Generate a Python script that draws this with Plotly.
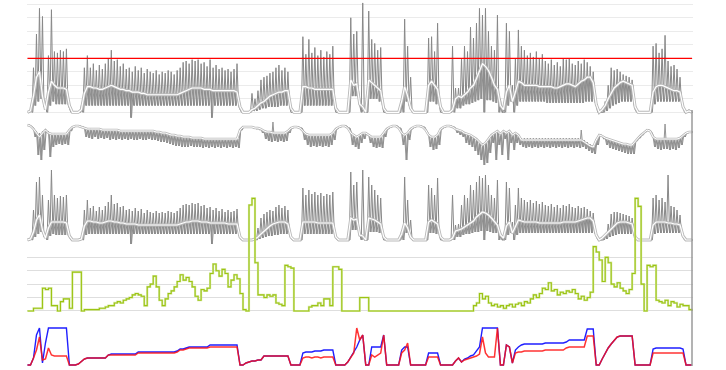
import plotly.graph_objects as go

# ---------------- data (sample index, 3 units per sample) ----------------
T = [3 * i for i in range(223)]
THRESHOLD = 40

P1_PEAK = [
0, 2, 33, 58, 77, 71, 5, 42, 76, 45,
44, 46, 45, 47, 3, 0, 0, 0, 5, 33,
42, 33, 36, 31, 35, 32, 36, 40, 46, 38,
39, 34, 36, 32, 33, 30, 34, 31, 33, 29,
32, 30, 29, 31, 28, 30, 29, 31, 30, 28,
31, 33, 37, 38, 36, 39, 38, 39, 36, 37,
34, 39, 33, 35, 32, 33, 31, 32, 30, 32,
36, 2, 0, 0, 0, 14, 10, 16, 24, 26,
27, 29, 30, 33, 35, 31, 33, 30, 0, 0,
0, 0, 56, 43, 54, 44, 48, 42, 46, 41,
45, 43, 49, 0, 0, 0, 0, 0, 70, 58,
60, 5, 81, 0, 75, 54, 51, 46, 48, 0,
0, 0, 0, 0, 0, 10, 69, 49, 26, 0,
0, 0, 0, 0, 55, 56, 45, 66, 0, 0,
0, 0, 49, 18, 18, 40, 49, 45, 63, 55,
66, 77, 72, 77, 60, 49, 46, 72, 10, 0,
66, 60, 20, 40, 61, 49, 46, 42, 44, 41,
45, 40, 43, 38, 36, 39, 35, 37, 34, 40,
39, 40, 36, 35, 38, 36, 39, 37, 34, 30,
5, 0, 0, 8, 20, 33, 31, 32, 30, 28,
27, 26, 24, 2, 0, 0, 0, 0, 0, 49,
51, 44, 47, 57, 38, 34, 35, 32, 26, 4,
0, 2, 0]

P1_LOW = [
0, 0, 5, 8, 10, 4, 0, 5, 8, 6,
6, 6, 6, 6, 0, 0, 0, 0, 0, 5,
5, 5, 5, 5, 5, 5, 5, 5, 5, 5,
5, 5, 5, 5, -4, 5, 5, 5, 5, 5,
5, 5, 5, 5, 5, 5, 5, 5, 5, 5,
5, 5, 5, 5, 5, 5, 5, 5, 5, 5,
5, -4, 5, 5, 5, 5, 5, 5, 5, 5,
5, 0, 0, 0, 0, 1, 1, 2, 3, 3,
4, 4, 4, 4, 5, 5, 5, 5, 0, 0,
0, 0, 5, 5, 5, 5, 5, 5, 5, 5,
5, 5, 5, 0, 0, 0, 0, 0, 12, 12,
12, 0, 0, 0, 10, 10, 10, 8, 6, 0,
0, 0, 0, 0, 0, 0, 8, 5, 0, 0,
0, 0, 0, 0, 8, 8, 6, 6, 0, 0,
0, 0, 0, 3, 3, 5, 6, 6, 7, 8,
9, 10, 0, 9, 9, 8, 7, 0, 0, 0,
5, 8, 0, 5, 8, 8, 8, 8, 8, 8,
8, 8, 8, 7, 7, 7, 7, 7, 7, 7,
7, 7, 7, 7, 7, 7, 8, 8, 8, 8,
0, 0, 0, 1, 3, 5, 6, 7, 8, 8,
8, 8, 7, 0, 0, 0, 0, 0, 0, 6,
8, 8, 8, 8, 8, 8, 8, 8, 7, 0,
0, 0, 0]

P1_MEAN = [
0, 1, 12, 26, 30, 12, 2, 15, 23, 20,
18, 18, 18, 17, 5, 0, 0, 0, 2, 14,
19, 19, 18, 18, 17, 17, 18, 19, 20, 19,
18, 17, 17, 16, 16, 15, 15, 15, 14, 14,
13, 13, 13, 13, 13, 13, 13, 13, 13, 13,
13, 14, 15, 16, 17, 18, 18, 18, 18, 17,
17, 17, 16, 16, 16, 16, 16, 16, 16, 16,
15, 4, 0, 0, 0, 2, 3, 5, 7, 8,
10, 12, 13, 14, 15, 15, 16, 16, 3, 0,
0, 0, 19, 19, 18, 18, 17, 17, 17, 17,
17, 17, 17, 3, 0, 0, 0, 0, 24, 20,
21, 6, 4, 0, 24, 22, 20, 18, 16, 3,
0, 0, 0, 0, 0, 8, 19, 12, 3, 0,
0, 0, 0, 0, 20, 23, 20, 17, 4, 0,
0, 0, 2, 10, 12, 11, 13, 15, 18, 20,
25, 30, 36, 34, 31, 26, 20, 17, 5, 2,
15, 20, 8, 15, 23, 22, 20, 20, 20, 20,
20, 19, 19, 19, 19, 19, 18, 18, 19, 20,
21, 21, 20, 19, 21, 23, 24, 26, 26, 22,
6, 0, 2, 5, 10, 14, 18, 20, 22, 23,
22, 21, 20, 4, 0, 0, 0, 0, 0, 15,
19, 20, 20, 19, 18, 17, 16, 16, 15, 4,
0, 1, 0]

# panel 2: depth below the top line
P2_HI = [
0, 1, 3, 6, 8, 6, 4, 6, 8, 8,
8, 8, 8, 8, 4, 2, 1, 1, 2, 3,
4, 4, 4, 4, 4, 5, 5, 5, 5, 5,
5, 6, 6, 6, 6, 6, 6, 6, 6, 6,
6, 6, 6, 7, 7, 8, 8, 9, 10, 10,
11, 11, 12, 12, 12, 13, 13, 13, 13, 14,
14, 14, 14, 14, 14, 14, 14, 14, 14, 14,
14, 5, 2, 2, 2, 2, 3, 3, 4, 6,
7, 7, -3, 8, 8, 8, 8, 6, 3, 2,
2, 3, 6, 9, 10, 10, 10, 10, 10, 10,
10, 10, 8, 4, 2, 1, 1, 3, 8, 10,
12, 10, 8, 8, 10, 12, 12, 12, 12, 8,
4, 2, 1, 1, 3, 8, 10, 8, 4, 2,
1, 1, 2, 5, 10, 12, 12, 10, 4, 2,
1, 1, 2, 4, 5, 6, 8, 9, 10, 12,
14, 17, 20, 18, 14, 10, 8, 6, 9, 6,
8, 6, 10, 8, 10, 13, 13, 13, 13, 13,
13, 13, 13, 13, 13, 13, 13, 13, 13, 13,
13, 13, 13, 13, 13, 5, 15, 17, 19, 20,
14, 10, 11, 13, 14, 15, 16, 17, 18, 19,
19, 20, 20, 16, 13, 10, 7, 5, 6, 12,
14, 14, 14, -1, 14, 14, 14, 14, 13, 10,
8, 7, 7]

P2_LO = [
0, 2, 12, 30, 35, 25, 8, 32, 22, 20,
19, 20, 19, 20, 6, 2, 1, 1, 2, 12,
13, 14, 12, 14, 13, 14, 13, 15, 14, 15,
14, 15, 14, 15, 14, 15, 15, 14, 15, 15,
14, 15, 15, 16, 17, 17, 18, 19, 20, 21,
21, 22, 22, 22, 21, 22, 22, 22, 23, 22,
23, 22, 23, 22, 23, 22, 23, 22, 23, 22,
23, 5, 2, 2, 2, 3, 4, 5, 8, 14,
16, 17, 16, 17, 16, 17, 16, 8, 3, 2,
2, 3, 15, 20, 22, 21, 22, 21, 22, 21,
22, 20, 15, 4, 2, 1, 1, 3, 20, 22,
24, 18, 14, 10, 18, 22, 23, 22, 23, 12,
4, 2, 1, 1, 3, 20, 35, 15, 4, 2,
1, 1, 2, 8, 22, 25, 24, 20, 4, 2,
1, 1, 2, 8, 10, 12, 18, 20, 22, 26,
30, 35, 40, 38, 28, 18, 35, 20, 30, 14,
35, 18, 25, 18, 20, 22, 23, 22, 23, 22,
23, 22, 23, 22, 23, 22, 23, 22, 23, 22,
23, 22, 23, 22, 23, 22, 24, 26, 28, 29,
20, 10, 14, 20, 23, 24, 25, 26, 27, 28,
29, 29, 29, 16, 13, 10, 7, 5, 8, 22,
24, 25, 24, 24, 25, 24, 25, 23, 20, 12,
8, 7, 7]

P2_MEAN = [
0, 1, 4, 8, 12, 8, 5, 8, 9, 9,
9, 9, 9, 9, 5, 2, 1, 1, 2, 3,
4, 4, 4, 4, 4, 5, 5, 5, 5, 5,
5, 6, 6, 6, 6, 6, 6, 6, 6, 6,
6, 6, 6, 7, 7, 8, 8, 9, 10, 10,
11, 11, 12, 12, 12, 13, 13, 13, 13, 14,
14, 14, 14, 14, 14, 14, 14, 14, 14, 14,
14, 5, 2, 2, 2, 2, 3, 3, 4, 6,
7, 7, 8, 8, 8, 8, 8, 6, 3, 2,
2, 3, 6, 9, 10, 10, 10, 10, 10, 10,
10, 10, 8, 4, 2, 1, 1, 3, 8, 10,
12, 10, 8, 8, 10, 12, 12, 12, 12, 8,
4, 2, 1, 1, 3, 8, 10, 8, 4, 2,
1, 1, 2, 5, 10, 12, 12, 10, 4, 2,
1, 1, 2, 4, 5, 6, 8, 9, 10, 12,
14, 17, 20, 18, 14, 10, 8, 6, 9, 6,
8, 6, 10, 8, 10, 15, 15, 15, 15, 15,
15, 15, 15, 15, 15, 15, 15, 15, 15, 15,
15, 15, 15, 15, 15, 15, 17, 19, 21, 22,
15, 10, 11, 13, 14, 15, 16, 17, 18, 19,
19, 20, 20, 16, 13, 10, 7, 5, 6, 12,
14, 14, 14, 14, 14, 14, 14, 14, 13, 10,
8, 7, 7]

P3_PEAK = [
0, 2, 30, 58, 63, 45, 5, 40, 70, 45,
42, 44, 43, 45, 3, 0, 0, 0, 3, 30,
40, 32, 34, 29, 33, 30, 34, 38, 45, 36,
37, 33, 34, 30, 31, 29, 32, 29, 31, 27,
30, 28, 27, 29, 27, 28, 27, 29, 28, 27,
29, 32, 35, 36, 35, 37, 36, 37, 34, 35,
32, 33, 30, 32, 29, 31, 28, 30, 28, 29,
31, 2, 0, 0, 0, 0, 1, 12, 22, 26,
28, 30, 29, 33, 35, 32, 34, 30, 2, 0,
0, 0, 52, 45, 50, 46, 48, 45, 47, 44,
46, 45, 48, 2, 0, 0, 0, 0, 68, 55,
58, 5, 70, 0, 63, 55, 50, 45, 42, 0,
0, 0, 0, 0, 0, 10, 63, 40, 20, 0,
0, 0, 0, 0, 55, 52, 45, 62, 0, 0,
0, 0, 45, 15, 16, 35, 45, 42, 55, 50,
58, 64, 62, 65, 55, 45, 42, 60, 8, 0,
58, 52, 18, 35, 52, 42, 40, 38, 40, 37,
39, 36, 38, 35, 34, 36, 33, 35, 32, 35,
34, 36, 33, 32, 34, 32, 33, 31, 29, 27,
4, 0, 0, 6, 16, 26, 28, 28, 27, 26,
25, 24, 22, 2, 0, 0, 0, 0, 0, 42,
45, 40, 42, 38, 65, 34, 33, 30, 25, 3,
0, 0, 0]

P3_LOW = [
0, 0, 3, 6, 8, 3, 0, 4, 6, 5,
5, 5, 5, 5, 0, 0, 0, 0, 0, 5,
6, 6, 6, 6, 6, 6, 6, 6, 6, 6,
6, 6, 6, 6, -4, 6, 6, 6, 6, 6,
6, 6, 6, 6, 6, 6, 6, 6, 6, 6,
6, 6, 6, 6, 6, 6, 6, 6, 6, 6,
6, -4, 6, 6, 6, 6, 6, 6, 6, 6,
6, 0, 0, 0, 0, 0, 0, 1, 2, 3,
4, 4, 5, 5, 6, 6, 6, 5, 0, 0,
0, 0, 6, 6, 6, 6, 6, 6, 6, 6,
6, 6, 6, 0, 0, 0, 0, 0, 10, 10,
10, 0, 0, 0, 8, 8, 8, 7, 6, 0,
0, 0, 0, 0, 0, 0, 7, 5, 0, 0,
0, 0, 0, 0, 7, 7, 6, 6, 0, 0,
0, 0, 0, 3, 3, 5, 6, 6, 7, 8,
8, 9, 0, 9, 8, 7, 7, 0, 0, 0,
5, 7, 0, 5, 7, 7, 7, 7, 7, 7,
7, 7, 7, 7, 7, 7, 7, 7, 7, 7,
7, 7, 7, 7, 7, 7, 7, 7, 7, 7,
0, 0, 0, 1, 3, 4, 5, 6, 6, 6,
6, 6, 6, 0, 0, 0, 0, 0, 0, 6,
7, 7, 7, 7, 7, 7, 7, 7, 6, 0,
0, 0, 0]

P3_MEAN = [
0, 1, 8, 20, 25, 10, 2, 12, 18, 18,
18, 18, 18, 17, 4, 0, 0, 0, 1, 14,
19, 19, 18, 18, 17, 17, 18, 19, 19, 18,
18, 17, 17, 16, 16, 16, 16, 15, 15, 15,
15, 15, 15, 15, 15, 15, 15, 15, 15, 15,
15, 16, 17, 18, 18, 19, 19, 19, 18, 18,
18, 17, 17, 17, 17, 17, 17, 16, 16, 16,
16, 3, 0, 0, 0, 0, 1, 3, 6, 9,
12, 14, 16, 17, 18, 18, 18, 16, 3, 0,
0, 0, 18, 18, 18, 18, 18, 17, 17, 17,
17, 17, 17, 3, 0, 0, 0, 0, 22, 20,
21, 5, 4, 0, 22, 21, 20, 18, 16, 3,
0, 0, 0, 0, 0, 6, 17, 12, 3, 0,
0, 0, 0, 0, 18, 20, 18, 16, 3, 0,
0, 0, 2, 9, 10, 11, 13, 15, 17, 19,
23, 26, 28, 27, 25, 22, 18, 15, 5, 2,
14, 18, 7, 14, 20, 19, 18, 18, 18, 18,
18, 17, 17, 17, 17, 17, 17, 17, 17, 18,
18, 18, 18, 18, 19, 20, 21, 22, 22, 19,
5, 0, 2, 5, 9, 12, 15, 17, 18, 18,
18, 17, 16, 3, 0, 0, 0, 0, 0, 15,
18, 18, 18, 18, 17, 17, 16, 16, 15, 4,
0, 0, 0]

GREEN = [
0, 0, 2, 2, 2, 17, 16, 17, 4, 4,
0, 7, 9, 9, 2, 29, 29, 29, 0, 1,
1, 1, 1, 1, 2, 2, 3, 4, 4, 6,
7, 6, 8, 9, 10, 12, 13, 12, 11, 4,
18, 20, 26, 18, 8, 4, 9, 13, 15, 18,
22, 27, 23, 25, 22, 18, 11, 8, 16, 15,
17, 28, 35, 30, 26, 31, 28, 18, 23, 27,
24, 13, 1, 0, 79, 84, 36, 12, 12, 10,
12, 11, 12, 6, 5, 4, 34, 33, 32, 0,
0, 0, 0, 0, 3, 4, 4, 6, 4, 9,
9, 4, 33, 33, 31, 0, 0, 0, 0, 0,
0, 10, 10, 10, 0, 0, 0, 0, 0, 0,
0, 0, 0, 0, 0, 0, 0, 0, 0, 0,
0, 0, 0, 0, 0, 0, 0, 0, 0, 0,
0, 0, 0, 0, 0, 0, 0, 0, 0, 4,
6, 13, 9, 11, 6, 4, 5, 3, 4, 2,
4, 5, 3, 5, 6, 4, 7, 6, 9, 12,
10, 13, 17, 16, 21, 15, 16, 12, 14, 13,
15, 14, 16, 13, 9, 11, 8, 10, 14, 48,
44, 38, 22, 40, 36, 20, 18, 21, 17, 15,
13, 16, 28, 84, 78, 20, 0, 34, 33, 34,
8, 7, 6, 8, 4, 7, 6, 3, 5, 4,
4, 1, 0]

RED = [
0, 0, 7, 15, 28, 5, 6, 17, 10, 9,
9, 9, 9, 9, 0, 0, 0, 1, 4, 6,
7, 7, 7, 7, 7, 7, 7, 10, 10, 10,
10, 10, 10, 10, 10, 10, 10, 12, 12, 12,
12, 12, 12, 12, 12, 12, 12, 12, 12, 12,
13, 15, 15, 16, 17, 17, 17, 17, 17, 17,
17, 18, 18, 18, 18, 18, 18, 18, 18, 18,
18, 0, 0, 2, 3, 4, 4, 5, 5, 9,
9, 9, 9, 9, 9, 9, 9, 9, 0, 0,
0, 0, 7, 8, 8, 7, 8, 8, 7, 8,
8, 8, 8, 0, 0, 0, 0, 3, 8, 12,
37, 25, 30, 0, 0, 10, 8, 10, 12, 30,
0, 0, 0, 0, 0, 12, 15, 22, 0, 0,
0, 0, 0, 0, 8, 8, 8, 8, 0, 0,
0, 0, 0, 4, 7, 3, 5, 6, 7, 8,
9, 11, 28, 12, 8, 8, 8, 37, 0, 0,
20, 18, 2, 12, 13, 13, 14, 14, 14, 14,
14, 14, 14, 15, 15, 15, 15, 15, 15, 15,
17, 18, 18, 18, 18, 18, 18, 29, 29, 29,
0, 0, 6, 12, 17, 21, 25, 28, 29, 29,
29, 29, 29, 0, 0, 0, 0, 0, 0, 12,
12, 12, 12, 12, 12, 12, 12, 12, 12, 12,
0, 0, 0]

BLUE = [
0, 0, 7, 30, 37, 2, 22, 37, 37, 37,
37, 37, 37, 37, 0, 0, 0, 1, 4, 6,
7, 7, 7, 7, 7, 7, 7, 10, 11, 11,
11, 11, 11, 11, 11, 11, 11, 13, 13, 13,
13, 13, 13, 13, 13, 13, 13, 13, 13, 13,
14, 16, 16, 17, 18, 18, 18, 18, 18, 18,
18, 20, 20, 20, 20, 20, 20, 20, 20, 20,
20, 0, 0, 2, 3, 4, 4, 5, 5, 9,
9, 9, 9, 9, 9, 9, 9, 9, 0, 0,
0, 0, 12, 13, 13, 13, 14, 14, 14, 15,
15, 15, 15, 0, 0, 0, 0, 3, 8, 12,
18, 25, 30, 0, 0, 18, 18, 18, 18, 30,
0, 0, 0, 0, 0, 15, 18, 18, 0, 0,
0, 0, 0, 0, 12, 12, 12, 12, 0, 0,
0, 0, 0, 4, 7, 3, 6, 7, 9, 10,
14, 18, 37, 37, 37, 37, 37, 37, 0, 0,
20, 18, 2, 15, 18, 20, 21, 21, 21, 21,
21, 21, 21, 22, 22, 22, 22, 22, 22, 22,
23, 25, 25, 25, 25, 25, 25, 36, 36, 36,
0, 0, 6, 12, 17, 21, 25, 28, 29, 29,
29, 29, 29, 0, 0, 0, 0, 0, 0, 16,
17, 17, 17, 17, 17, 17, 17, 17, 17, 16,
0, 0, 0]

for name, arr in [("P1_PEAK", P1_PEAK), ("P1_LOW", P1_LOW), ("P1_MEAN", P1_MEAN),
                  ("P2_HI", P2_HI), ("P2_LO", P2_LO), ("P2_MEAN", P2_MEAN),
                  ("P3_PEAK", P3_PEAK), ("P3_LOW", P3_LOW), ("P3_MEAN", P3_MEAN),
                  ("GREEN", GREEN), ("RED", RED), ("BLUE", BLUE)]:
    assert len(arr) == len(T), (name, len(arr))


def zigzag(t, top, bot, off=0.0):
    xs, ys = [], []
    for ti, a, b in zip(t, top, bot):
        xs += [ti + off, ti + off + 1.5]
        ys += [a, b]
    return xs, ys


fig = go.Figure()
SPIKE = "#888888"
BAND = "#8f8f8f"
HALO = "#b9b9b9"


def add_gray_panel(k, top, bot, mean, spike_col=SPIKE, halo_w=3.0, white_w=1.2):
    xa, ya = f"x{k}", f"y{k}"
    xs, ys = zigzag(T, top, bot)
    fig.add_trace(go.Scatter(x=xs, y=ys, mode="lines", line=dict(color=spike_col, width=1),
                             xaxis=xa, yaxis=ya, hoverinfo="skip"))
    xs2, ys2 = zigzag(T, mean, bot, off=0.75)
    fig.add_trace(go.Scatter(x=xs2, y=ys2, mode="lines", line=dict(color=BAND, width=1),
                             xaxis=xa, yaxis=ya, hoverinfo="skip"))
    fig.add_trace(go.Scatter(x=T, y=mean, mode="lines", line=dict(color=HALO, width=halo_w),
                             xaxis=xa, yaxis=ya, hoverinfo="skip"))
    fig.add_trace(go.Scatter(x=T, y=mean, mode="lines", line=dict(color="#ffffff", width=white_w),
                             xaxis=xa, yaxis=ya, hoverinfo="skip"))


add_gray_panel(1, P1_PEAK, P1_LOW, P1_MEAN)
fig.add_trace(go.Scatter(x=[T[0], T[-1]], y=[THRESHOLD, THRESHOLD], mode="lines",
                         line=dict(color="#ff0000", width=1.3), xaxis="x1", yaxis="y1"))
add_gray_panel(2, P2_HI, P2_LO, P2_MEAN, spike_col="#959595", halo_w=2.4, white_w=1.0)
add_gray_panel(3, P3_PEAK, P3_LOW, P3_MEAN)

fig.add_trace(go.Scatter(x=T, y=GREEN, mode="lines", line=dict(color="#d9eaa8", width=2.2, shape="hv"),
                         xaxis="x4", yaxis="y4"))
fig.add_trace(go.Scatter(x=T, y=GREEN, mode="lines", line=dict(color="#9cc414", width=1.1, shape="hv"),
                         xaxis="x4", yaxis="y4"))

fig.add_trace(go.Scatter(x=T, y=BLUE, mode="lines", line=dict(color="#1f1fff", width=1.4),
                         xaxis="x5", yaxis="y5"))
fig.add_trace(go.Scatter(x=T, y=RED, mode="lines", line=dict(color="#ff1010", width=1.5),
                         opacity=0.85, xaxis="x5", yaxis="y5"))

H = 370.0


def dom(top_px, bot_px):
    return [1 - bot_px / H, 1 - top_px / H]


xr = [-0.5, 667]
common_x = dict(range=xr, showgrid=False, zeroline=False, showticklabels=False,
                showline=False, ticks="")
layout = dict(width=726, height=370, margin=dict(l=27, r=33, t=0, b=0),
              paper_bgcolor="white", plot_bgcolor="rgba(0,0,0,0)", showlegend=False)
for k in range(1, 6):
    layout[f"xaxis{k}"] = dict(common_x, anchor=f"y{k}", domain=[0, 1])

noax = dict(zeroline=False, showticklabels=False, showline=False, ticks="")
layout["yaxis1"] = dict(noax, anchor="x1", domain=dom(2, 119), range=[-4.96, 81.7],
                        showgrid=True, tickvals=[0, 10, 20, 30, 40, 50, 60, 70, 80],
                        gridcolor="#ebebeb", gridwidth=1)
layout["yaxis2"] = dict(noax, anchor="x2", domain=dom(120, 166), range=[41, -5], showgrid=False)
layout["yaxis3"] = dict(noax, anchor="x3", domain=dom(166, 246), range=[-6, 74], showgrid=False)
layout["yaxis4"] = dict(noax, anchor="x4", domain=dom(193, 315), range=[-3, 88],
                        showgrid=True, tickvals=[0, 10, 20, 30, 40], gridcolor="#dedede", gridwidth=1)
layout["yaxis5"] = dict(noax, anchor="x5", domain=dom(322, 368), range=[-3, 43], showgrid=False)

layout["shapes"] = [dict(type="line", xref="x1", yref="paper", x0=T[-1], x1=T[-1],
                         y0=1 - 366 / H, y1=1 - 110 / H, line=dict(color="#9a9a9a", width=1.5))]

fig.update_layout(**layout)
fig.write_html("out.html")
